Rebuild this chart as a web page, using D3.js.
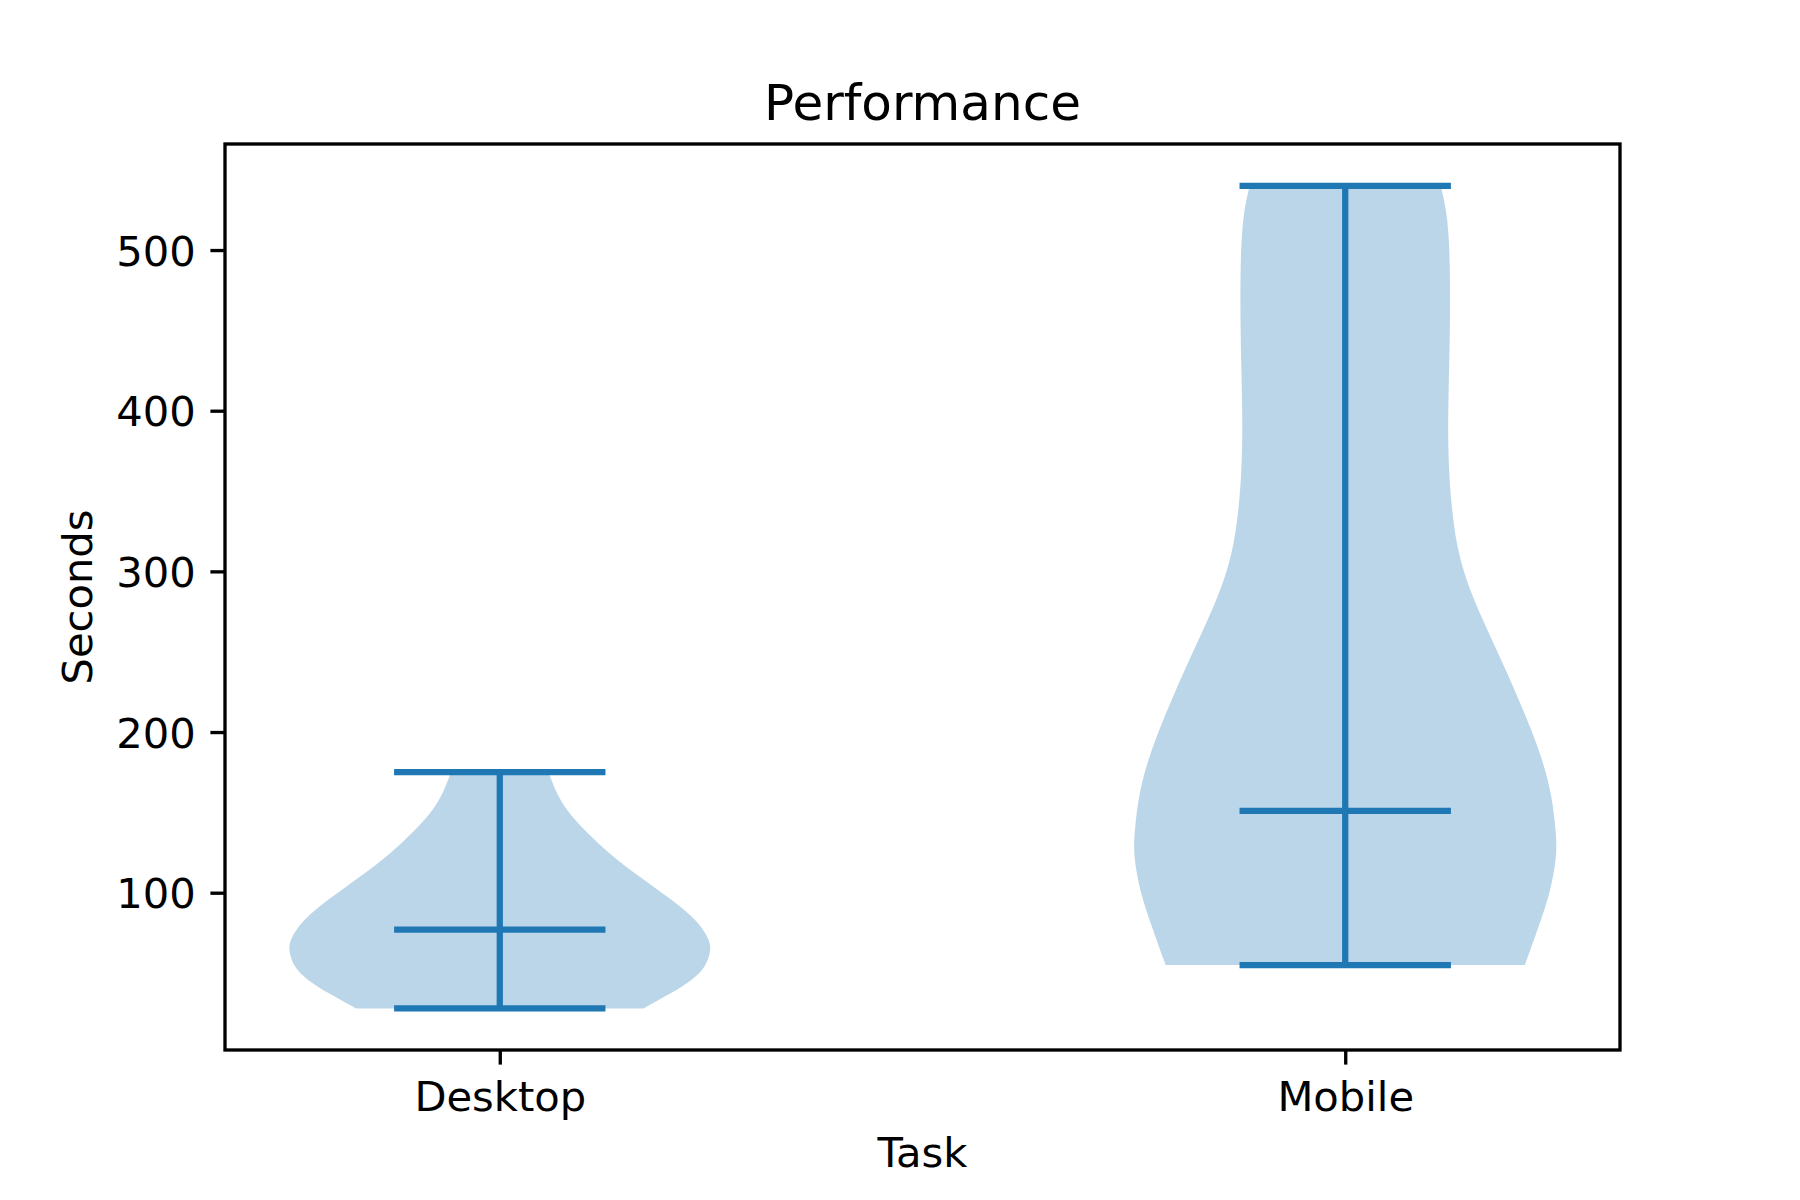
<!DOCTYPE html>
<html>
<head>
<meta charset="utf-8">
<script src="https://cdn.jsdelivr.net/npm/d3@7"></script>
<style>
  html, body { margin: 0; padding: 0; background: #fff; }
  svg { display: block; font-family: "DejaVu Sans", sans-serif; }
</style>
</head>
<body>
<svg id="chart" width="1800" height="1200"></svg>
<script>
// ---- data ----
const categories = ["Desktop", "Mobile"];
const positions = [1, 2];
const mins = [28, 55];
const maxs = [175, 540];
const medians = [77, 151];

// violin outline: value (seconds) and relative half-width (max = 1)
const desktopY = [28, 37.4, 45.7, 54.0, 64.4, 70.6, 81.0, 91.3, 101.7, 112.1, 122.4, 133.4, 141.1, 151.5, 161.9, 175];
const desktopW = [0.68, 0.811, 0.913, 0.976, 1.0, 0.992, 0.945, 0.858, 0.748, 0.638, 0.535, 0.445, 0.385, 0.315, 0.268, 0.231];
const mobileY = [55, 80, 100, 120, 130, 140, 160, 180, 200, 220, 240, 260, 280, 300, 320, 340, 357, 378, 398, 419, 440, 461, 481, 502, 523, 540];
const mobileW = [0.850, 0.918, 0.97, 0.997, 1.0, 0.995, 0.978, 0.94, 0.885, 0.822, 0.755, 0.685, 0.615, 0.558, 0.522, 0.504, 0.493, 0.487, 0.487, 0.490, 0.494, 0.496, 0.496, 0.493, 0.482, 0.452];

const yTicks = [100, 200, 300, 400, 500];
const chartTitle = "Performance";
const xLabel = "Task";
const yLabel = "Seconds";

// ---- layout ----
const pLeft = 225, pRight = 1620, pTop = 144, pBottom = 1050;
const violinWidth = 0.5;
const color = "#1f77b4";
const lw = 6.25;

const svg = d3.select("#chart");
const x = d3.scaleLinear().domain([0.675, 2.325]).range([pLeft, pRight]);
const y = d3.scaleLinear().domain([2.1, 566.0]).range([pBottom, pTop]);

const profiles = [
  desktopY.map((v, i) => ({ v, w: desktopW[i] })),
  mobileY.map((v, i) => ({ v, w: mobileW[i] }))
];

// violin bodies
profiles.forEach((prof, i) => {
  const p = positions[i];
  const area = d3.area()
    .y(d => y(d.v))
    .x0(d => x(p - d.w * violinWidth / 2))
    .x1(d => x(p + d.w * violinWidth / 2))
    .curve(d3.curveBasis);
  svg.append("path")
    .datum(prof)
    .attr("d", area)
    .attr("fill", color)
    .attr("fill-opacity", 0.3)
    .attr("stroke", "none");
});

// lines: bars, caps, medians
const g = svg.append("g").attr("stroke", color).attr("stroke-width", lw).attr("stroke-linecap", "butt");
positions.forEach((p, i) => {
  g.append("line").attr("x1", x(p)).attr("x2", x(p)).attr("y1", y(mins[i])).attr("y2", y(maxs[i]));
  [mins[i], maxs[i], medians[i]].forEach(v => {
    g.append("line")
      .attr("x1", x(p - violinWidth / 4)).attr("x2", x(p + violinWidth / 4))
      .attr("y1", y(v)).attr("y2", y(v));
  });
});

// frame
svg.append("rect")
  .attr("x", pLeft).attr("y", pTop)
  .attr("width", pRight - pLeft).attr("height", pBottom - pTop)
  .attr("fill", "none").attr("stroke", "#000").attr("stroke-width", 3.33);

// y axis
const yAxis = d3.axisLeft(y).tickValues(yTicks).tickSize(14.6).tickPadding(14.6);
const ya = svg.append("g").attr("transform", `translate(${pLeft},0)`).call(yAxis);
// x axis
const xAxis = d3.axisBottom(x).tickValues(positions).tickFormat((d, i) => categories[i]).tickSize(14.6).tickPadding(14.6);
const xa = svg.append("g").attr("transform", `translate(0,${pBottom})`).call(xAxis);

[ya, xa].forEach(a => {
  a.select(".domain").remove();
  a.selectAll(".tick line").attr("stroke", "#000").attr("stroke-width", 3.33);
  a.selectAll(".tick text").attr("fill", "#000").style("font-size", "41.67px").style("font-family", "DejaVu Sans");
});
ya.selectAll(".tick text").attr("dy", "0.36em");
xa.selectAll(".tick text").attr("dy", null).attr("y", 1110.7 - pBottom);

// title & labels
svg.append("text").attr("x", (pLeft + pRight) / 2).attr("y", 120)
  .attr("text-anchor", "middle").style("font-size", "50px").text(chartTitle);
svg.append("text").attr("x", (pLeft + pRight) / 2).attr("y", 1167.3)
  .attr("text-anchor", "middle").style("font-size", "41.67px").text(xLabel);
svg.append("text").attr("transform", `translate(91.7,${(pTop + pBottom) / 2}) rotate(-90)`)
  .attr("text-anchor", "middle").style("font-size", "41.67px").text(yLabel);
</script>
</body>
</html>
